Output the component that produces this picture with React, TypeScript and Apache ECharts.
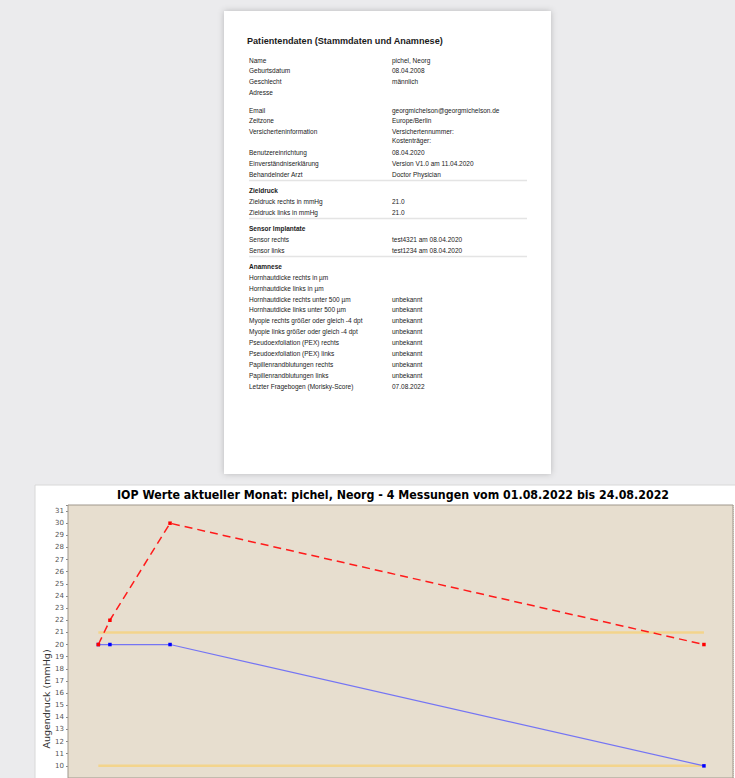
import React, { useEffect, useRef } from 'react';
import * as echarts from 'echarts';

// ---------- document data ----------
const docTitle = 'Patientendaten (Stammdaten und Anamnese)';
const stammLabels = ['Name', 'Geburtsdatum', 'Geschlecht', 'Adresse'];
const stammValues = ['pichel, Neorg', '08.04.2008', 'männlich', ''];
const kontaktLabels = ['Email', 'Zeitzone', 'Versicherteninformation', 'Benutzereinrichtung', 'Einverständniserklärung', 'Behandelnder Arzt'];
const kontaktValues = ['georgmichelson@georgmichelson.de', 'Europe/Berlin', 'Versichertennummer:\nKostenträger:', '08.04.2020', 'Version V1.0 am 11.04.2020', 'Doctor Physician'];
const zieldruckHeader = 'Zieldruck';
const zieldruckLabels = ['Zieldruck rechts in mmHg', 'Zieldruck links in mmHg'];
const zieldruckValues = ['21.0', '21.0'];
const sensorHeader = 'Sensor Implantate';
const sensorLabels = ['Sensor rechts', 'Sensor links'];
const sensorValues = ['test4321 am 08.04.2020', 'test1234 am 08.04.2020'];
const anamneseHeader = 'Anamnese';
const anamneseLabels = [
  'Hornhautdicke rechts in µm',
  'Hornhautdicke links in µm',
  'Hornhautdicke rechts unter 500 µm',
  'Hornhautdicke links unter 500 µm',
  'Myopie rechts größer oder gleich -4 dpt',
  'Myopie links größer oder gleich -4 dpt',
  'Pseudoexfoliation (PEX) rechts',
  'Pseudoexfoliation (PEX) links',
  'Papillenrandblutungen rechts',
  'Papillenrandblutungen links',
  'Letzter Fragebogen (Morisky-Score)',
];
const anamneseValues = ['', '', 'unbekannt', 'unbekannt', 'unbekannt', 'unbekannt', 'unbekannt', 'unbekannt', 'unbekannt', 'unbekannt', '07.08.2022'];

// ---------- chart data ----------
const chartTitle = 'IOP Werte aktueller Monat: pichel, Neorg - 4 Messungen vom 01.08.2022 bis 24.08.2022';
const yAxisName = 'Augendruck (mmHg)';
const measureTimes = ['2022-08-01T23:00:00', '2022-08-02T09:00:00', '2022-08-04T13:00:00', '2022-08-23T18:45:00'];
const iopRed = [20, 22, 30, 20];
const iopBlue = [20, 20, 20, 10];
const targetTimes = ['2022-08-01T23:00:00', '2022-08-23T18:45:00'];
const targetUpper = [21, 21];
const targetLower = [10, 10];
const xAxisStart = '2022-07-31T20:45:00';
const xAxisEnd = '2022-08-24T19:53:00';
const yMin = 9;
const yMax = 31.5;

const ts = (s: string) => new Date(s).getTime();

function buildDocGraphics() {
  const els: any[] = [];
  const labelX = 249;
  const valueX = 392;
  const step = 10.9;
  const font = 'Liberation Sans, Arial, sans-serif';
  const txt = (x: number, y: number, text: string, bold = false, size = 6.5) => {
    if (!text) return;
    els.push({
      type: 'text', x, y, z: 1, silent: true,
      style: { text, fontSize: size, fontFamily: font, fontWeight: bold ? 'bold' : 'normal', fill: '#1a1a1a', textAlign: 'left', textVerticalAlign: 'middle', lineHeight: 8.5 },
    });
  };
  const sep = (y: number) => {
    els.push({ type: 'line', z: 1, silent: true, shape: { x1: labelX, y1: y, x2: 527, y2: y }, style: { stroke: '#e4e4e4', lineWidth: 1.5 } });
  };
  // page
  els.push({ type: 'rect', z: 0, silent: true, shape: { x: 224, y: 11, width: 327, height: 463 }, style: { fill: '#ffffff', shadowBlur: 6, shadowColor: 'rgba(0,0,0,0.22)' } });
  txt(247, 40.5, docTitle, true, 9.1);
  let y = 60;
  stammLabels.forEach((l, i) => { txt(labelX, y, l); txt(valueX, y, stammValues[i]); y += i < stammLabels.length - 1 ? step : 0; });
  y = 110;
  kontaktLabels.forEach((l, i) => {
    const v = kontaktValues[i];
    txt(labelX, y, l);
    if (v.includes('\n')) {
      const parts = v.split('\n');
      parts.forEach((p, k) => txt(valueX, y + k * 8.6, p));
      y += step + 9.6;
    } else {
      txt(valueX, y, v);
      y += step;
    }
  });
  y -= step;
  const section = (header: string, labels: string[], values: string[]) => {
    y += 6.5; sep(y);
    y += 9.7; txt(labelX, y, header, true);
    labels.forEach((l, i) => { y += step; txt(labelX, y, l); txt(valueX, y, values[i]); });
  };
  section(zieldruckHeader, zieldruckLabels, zieldruckValues);
  section(sensorHeader, sensorLabels, sensorValues);
  section(anamneseHeader, anamneseLabels, anamneseValues);
  return els;
}

export default function App() {
  const ref = useRef<HTMLDivElement>(null);
  useEffect(() => {
    if (!ref.current) return;
    const chart = echarts.init(ref.current, undefined, { renderer: 'svg' });
    const pairs = (vals: number[]) => measureTimes.map((t, i) => [ts(t), vals[i]]);
    const tpairs = (vals: number[]) => targetTimes.map((t, i) => [ts(t), vals[i]]);
    const gridLine = { show: true, lineStyle: { color: '#d6ccbe', type: 'dotted', width: 1 } };
    chart.setOption({
      animation: false,
      backgroundColor: '#ebebed',
      title: {
        text: chartTitle,
        left: 388,
        top: 484,
        textAlign: 'center',
        textStyle: { fontFamily: 'DejaVu Sans Condensed, DejaVu Sans, sans-serif', fontWeight: 'bold', fontSize: 12.3, color: '#000' },
      },
      graphic: [
        ...buildDocGraphics(),
        { type: 'rect', z: 0, silent: true, shape: { x: 35, y: 485, width: 710, height: 300 }, style: { fill: '#ffffff', stroke: '#d8d8d8', lineWidth: 1 } },
        {
          type: 'text', z: 5, silent: true, x: 46, y: 699, rotation: Math.PI / 2,
          style: { text: yAxisName, fontSize: 9.5, fontFamily: 'DejaVu Sans, sans-serif', fill: '#333', textAlign: 'center', textVerticalAlign: 'middle' },
        },
      ],
      grid: { left: 68, right: 2, top: 505, bottom: 0, show: true, backgroundColor: '#e7decf', borderColor: '#9f978c', borderWidth: 1, z: 1 },
      xAxis: {
        type: 'time',
        min: ts(xAxisStart),
        max: ts(xAxisEnd),
        minInterval: 86400000,
        maxInterval: 86400000,
        axisLine: { show: false },
        axisTick: { show: false },
        axisLabel: { show: false },
        splitLine: gridLine,
      },
      yAxis: {
        type: 'value',
        min: yMin,
        max: yMax,
        interval: 1,
        axisLine: { show: false },
        axisTick: { show: true, length: 2, lineStyle: { color: '#888' } },
        axisLabel: {
          fontSize: 7, color: '#555', fontFamily: 'DejaVu Sans, sans-serif', margin: 4,
          showMinLabel: false,
          formatter: (v: number) => (Number.isInteger(v) ? String(v) : ''),
        },
        splitLine: gridLine,
      },
      series: [
        { name: 'Zieldruck oben', type: 'line', data: tpairs(targetUpper), symbol: 'none', lineStyle: { color: '#f3d48c', width: 2.5 }, z: 2 },
        { name: 'Zieldruck unten', type: 'line', data: tpairs(targetLower), symbol: 'none', lineStyle: { color: '#f3d48c', width: 2.5 }, z: 2 },
        { name: 'links', type: 'line', data: pairs(iopBlue), symbol: 'rect', symbolSize: 3.5, itemStyle: { color: '#0000ff' }, lineStyle: { color: '#7474f4', width: 1.2 }, z: 3 },
        { name: 'rechts', type: 'line', data: pairs(iopRed), symbol: 'rect', symbolSize: 3.5, itemStyle: { color: '#ff0000' }, lineStyle: { color: '#ff1a1a', width: 1.5, type: [8, 5] }, z: 4 },
      ],
    });
    return () => chart.dispose();
  }, []);
  return (
    <div style={{ position: 'fixed', left: 0, top: 0, width: 735, height: 778, overflow: 'hidden' }}>
      <div ref={ref} style={{ width: 735, height: 778 }} />
    </div>
  );
}
